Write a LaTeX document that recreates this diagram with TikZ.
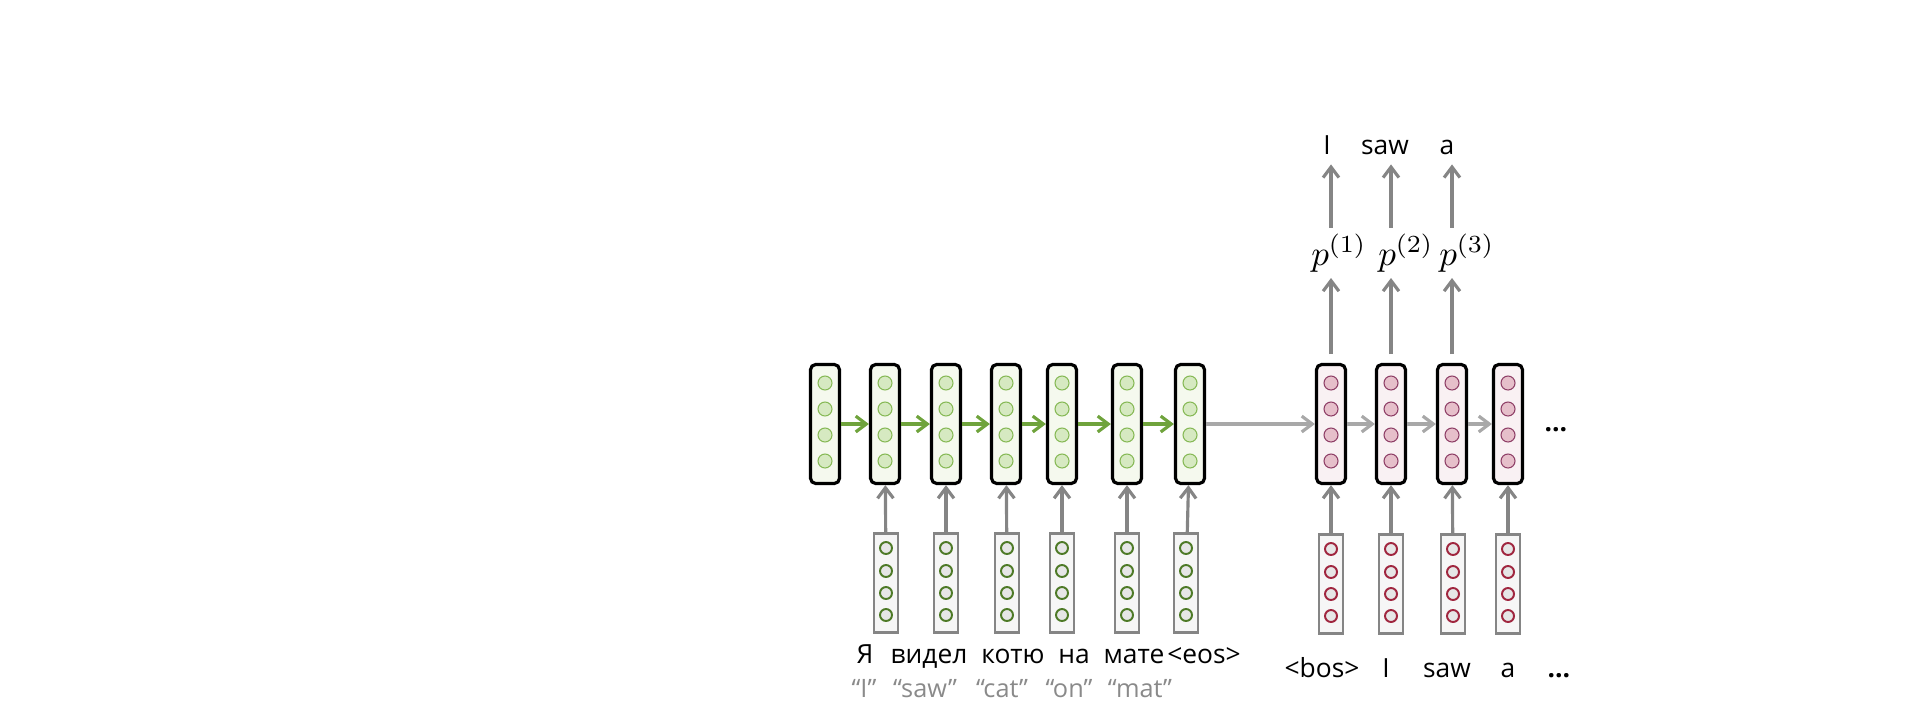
\documentclass[tikz,border=0pt]{standalone}
\usepackage{amsmath}
\usepackage{xcolor}
\usepackage{fontspec}
\setmainfont{Open Sans}
\usetikzlibrary{arrows.meta,calc}

\definecolor{encfill}{HTML}{F5F9EE}
\definecolor{encdot}{HTML}{D6E9C1}
\definecolor{encring}{HTML}{86B955}
\definecolor{encgreen}{HTML}{6FA33C}
\definecolor{decfill}{HTML}{F9F1F3}
\definecolor{decdot}{HTML}{E6BFCA}
\definecolor{decring}{HTML}{8E3E66}
\definecolor{embfill}{HTML}{F6F6F6}
\definecolor{embdot}{HTML}{E6E6E6}
\definecolor{embgreen}{HTML}{4E7A27}
\definecolor{embred}{HTML}{A0263F}
\definecolor{linegray}{HTML}{A8A8A8}
\definecolor{stemgray}{HTML}{858585}
\definecolor{textgray}{HTML}{8A8A8A}

\begin{document}
\begin{tikzpicture}[x=0.01cm, y=-0.01cm, >={Straight Barb[length=3pt,width=4.5pt]}]
\useasboundingbox (0,0) rectangle (1906,724);

%style for encoder state
\tikzstyle{encbox} = [rectangle, rounded corners=1.5pt, fill=encfill, draw=black, line width=0.9pt, minimum width=0.29cm, minimum height=1.19cm, inner sep=0pt,
  path picture={\foreach \k in {-41,-15,11,37} \draw[line width=0.3pt, draw=encring, fill=encdot] ($(path picture bounding box.center)+(0,\k)$) circle (7);}]

%style for decoder state
\tikzstyle{decbox} = [rectangle, rounded corners=1.5pt, fill=decfill, draw=black, line width=0.9pt, minimum width=0.29cm, minimum height=1.19cm, inner sep=0pt,
  path picture={\foreach \k in {-41,-15,11,37} \draw[line width=0.3pt, draw=decring, fill=decdot] ($(path picture bounding box.center)+(0,\k)$) circle (7);}]

%style for input embeddings
\tikzstyle{srcemb} = [rectangle, fill=embfill, draw=stemgray, line width=0.8pt, minimum width=0.24cm, minimum height=0.99cm, inner sep=0pt,
  path picture={\foreach \k in {-35,-12,10,32} \draw[line width=0.55pt, draw=embgreen, fill=embdot] ($(path picture bounding box.center)+(0,\k)$) circle (6);}]
\tikzstyle{tgtemb} = [rectangle, fill=embfill, draw=stemgray, line width=0.8pt, minimum width=0.24cm, minimum height=0.99cm, inner sep=0pt,
  path picture={\foreach \k in {-35,-12,10,32} \draw[line width=0.55pt, draw=embred, fill=embdot] ($(path picture bounding box.center)+(0,\k)$) circle (6);}]

%style for words
\tikzstyle{word} = [inner sep=1pt, text height=6pt, text depth=1.5pt, font=\fontsize{7.5}{9}\selectfont]
\tikzstyle{gloss} = [inner sep=1pt, text height=5.5pt, text depth=1.4pt, text=textgray, font=\fontsize{7.2}{8.5}\selectfont]
\tikzstyle{prob} = [inner sep=1.5pt, font=\fontsize{10}{12}\selectfont]

%style for arrows
\tikzstyle{encarrow} = [->, draw=encgreen, line width=0.9pt]
\tikzstyle{decarrow} = [->, draw=linegray, line width=0.9pt]
\tikzstyle{stemarrow} = [->, draw=stemgray, line width=0.9pt]

%place encoder states
\node[encbox](enc1) at (825,424) {};
\node[encbox](enc2) at (885,424) {};
\node[encbox](enc3) at (946,424) {};
\node[encbox](enc4) at (1006,424) {};
\node[encbox](enc5) at (1062,424) {};
\node[encbox](enc6) at (1127,424) {};
\node[encbox](enc7) at (1190,424) {};

%place decoder states
\node[decbox](dec1) at (1331,424) {};
\node[decbox](dec2) at (1391,424) {};
\node[decbox](dec3) at (1452,424) {};
\node[decbox](dec4) at (1508,424) {};
\node[word](moreDots) at (1556,424) {\textbf{\ldots}};

%place embeddings
\node[srcemb](src1) at (886,583) {};
\node[srcemb](src2) at (946,583) {};
\node[srcemb](src3) at (1007,583) {};
\node[srcemb](src4) at (1062,583) {};
\node[srcemb](src5) at (1127,583) {};
\node[srcemb](src6) at (1186,583) {};
\node[tgtemb](tgt1) at (1331,584) {};
\node[tgtemb](tgt2) at (1391,584) {};
\node[tgtemb](tgt3) at (1453,584) {};
\node[tgtemb](tgt4) at (1508,584) {};

%source sentence
\node[word](srcW1) at (865,656) {Я};
\node[word](srcW2) at (929,656) {видел};
\node[word](srcW3) at (1013,656) {котю};
\node[word](srcW4) at (1074,656) {на};
\node[word](srcW5) at (1134,656) {мате};
\node[word](srcW6) at (1204,656) {<eos>};
\node[gloss](gl1) at (864,690) {``I''};
\node[gloss](gl2) at (925,690) {``saw''};
\node[gloss](gl3) at (1002,690) {``cat''};
\node[gloss](gl4) at (1069,690) {``on''};
\node[gloss](gl5) at (1140,690) {``mat''};

%decoder inputs
\node[word](tgtW1) at (1322,670) {<bos>};
\node[word](tgtW2) at (1386,670) {I};
\node[word](tgtW3) at (1447,670) {saw};
\node[word](tgtW4) at (1508,670) {a};
\node[word](tgtW5) at (1559,670) {\textbf{\ldots}};

%predictions
\node[prob](p1) at (1339,253) {$p^{(1)}$};
\node[prob](p2) at (1406,253) {$p^{(2)}$};
\node[prob](p3) at (1467,253) {$p^{(3)}$};
\node[word](out1) at (1327,147) {I};
\node[word](out2) at (1385,147) {saw};
\node[word](out3) at (1447,147) {a};

%connect encoder states
\draw[encarrow] (enc1) -- (enc2);
\draw[encarrow] (enc2) -- (enc3);
\draw[encarrow] (enc3) -- (enc4);
\draw[encarrow] (enc4) -- (enc5);
\draw[encarrow] (enc5) -- (enc6);
\draw[encarrow] (enc6) -- (enc7);

%connect decoder states
\draw[decarrow] (enc7) -- (dec1);
\draw[decarrow] (dec1) -- (dec2);
\draw[decarrow] (dec2) -- (dec3);
\draw[decarrow] (dec3) -- (dec4);

%embeddings into states
\draw[stemarrow] (src1) -- (enc2);
\draw[stemarrow] (src2) -- (enc3);
\draw[stemarrow] (src3) -- (enc4);
\draw[stemarrow] (src4) -- (enc5);
\draw[stemarrow] (src5) -- (enc6);
\draw[stemarrow] (src6) -- (enc7);
\draw[stemarrow] (tgt1) -- (dec1);
\draw[stemarrow] (tgt2) -- (dec2);
\draw[stemarrow] (tgt3) -- (dec3);
\draw[stemarrow] (tgt4) -- (dec4);

% states to predictions to words
\draw[stemarrow, shorten <=2.5pt] (dec1) -- (dec1 |- p1.south);
\draw[stemarrow, shorten <=2.5pt] (dec2) -- (dec2 |- p2.south);
\draw[stemarrow, shorten <=2.5pt] (dec3) -- (dec3 |- p3.south);
\draw[stemarrow] (dec1 |- p1.north) -- (dec1 |- out1.south);
\draw[stemarrow] (dec2 |- p2.north) -- (dec2 |- out2.south);
\draw[stemarrow] (dec3 |- p3.north) -- (dec3 |- out3.south);
\end{tikzpicture}
\end{document}
